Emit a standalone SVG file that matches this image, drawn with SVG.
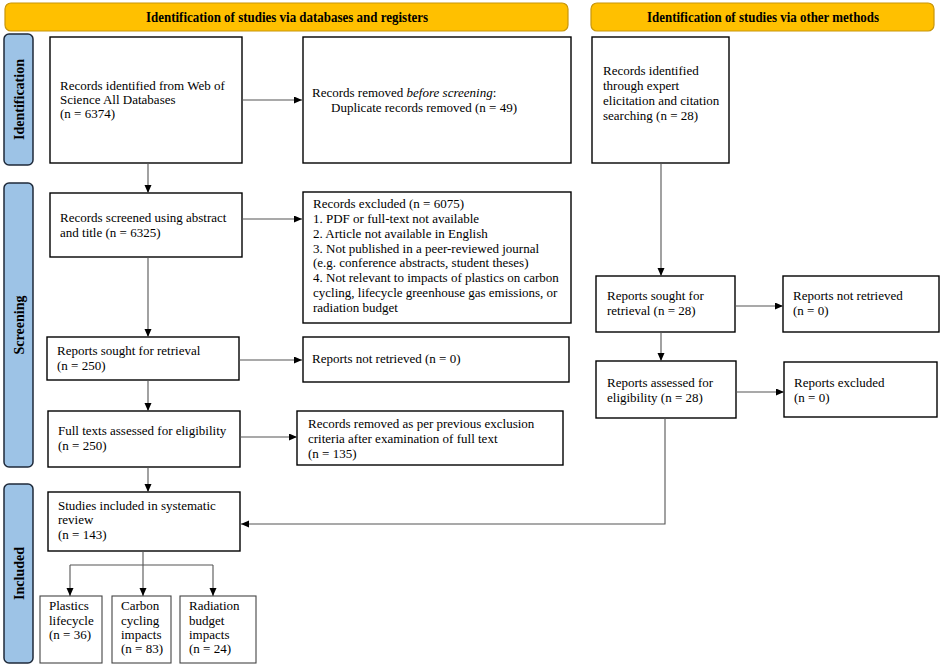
<svg xmlns="http://www.w3.org/2000/svg" width="941" height="667" viewBox="0 0 941 667">
<style>
.hdr{fill:#FFC000;stroke:#C8960A;stroke-width:1.2}
.ht{font-family:"Liberation Serif",serif;font-weight:bold;font-size:14px;fill:#000;text-anchor:middle}
.side{fill:#9DC3E6;stroke:#1F2A3A;stroke-width:1.5}
.st{font-family:"Liberation Serif",serif;font-weight:bold;font-size:14px;fill:#000;text-anchor:middle}
.box{fill:#fff;stroke:#000;stroke-width:1.4}
.sbox{fill:#fff;stroke:#444;stroke-width:1.1}
.t{font-family:"Liberation Serif",serif;font-size:13px;fill:#000}
.c{fill:none;stroke:#555;stroke-width:1.1}
</style>
<defs>
<marker id="ah" markerUnits="userSpaceOnUse" markerWidth="9" markerHeight="8" refX="8" refY="3.5" orient="auto">
<path d="M0,0 L8,3.5 L0,7 z" fill="#000"/>
</marker>
</defs>
<rect width="941" height="667" fill="#fff"/>
<g id="header1"><rect class="hdr" x="5" y="3" width="563" height="28" rx="6"/><text class="ht" x="287" y="21.5" textLength="282" lengthAdjust="spacingAndGlyphs">Identification of studies via databases and registers</text></g>
<g id="header2"><rect class="hdr" x="591" y="3" width="343" height="28" rx="6"/><text class="ht" x="763" y="21.5" textLength="232" lengthAdjust="spacingAndGlyphs">Identification of studies via other methods</text></g>
<g id="label-identification"><rect class="side" x="4" y="34" width="29" height="131" rx="5"/><text class="st" transform="translate(23.5,99.5) rotate(-90)">Identification</text></g>
<g id="label-screening"><rect class="side" x="4" y="183" width="29" height="284" rx="5"/><text class="st" transform="translate(23.5,325) rotate(-90)">Screening</text></g>
<g id="label-included"><rect class="side" x="4" y="484" width="29" height="179" rx="5"/><text class="st" transform="translate(23.5,573.5) rotate(-90)">Included</text></g>
<g id="n-records-wos"><rect class="box" x="50" y="37" width="192" height="126"/><text class="t" x="60" y="90">Records identified from Web of</text><text class="t" x="60" y="104">Science All Databases</text><text class="t" x="60" y="118">(n = 6374)</text></g>
<g id="n-removed-before"><rect class="box" x="303" y="37" width="268" height="126"/><text class="t" x="312" y="97">Records removed <tspan font-style="italic">before screening</tspan>:</text><text class="t" x="331" y="112">Duplicate records removed (n = 49)</text></g>
<g id="n-other-records"><rect class="box" x="592" y="37" width="137" height="126"/><text class="t" x="603" y="75">Records identified</text><text class="t" x="603" y="90">through expert</text><text class="t" x="603" y="105">elicitation and citation</text><text class="t" x="603" y="120">searching (n = 28)</text></g>
<g id="n-screened"><rect class="box" x="50" y="193" width="192" height="64"/><text class="t" x="60" y="222">Records screened using abstract</text><text class="t" x="60" y="237">and title (n = 6325)</text></g>
<g id="n-excluded"><rect class="box" x="303" y="192" width="268" height="131"/><text class="t" x="313" y="208">Records excluded (n = 6075)</text><text class="t" x="313" y="223">1. PDF or full-text not available</text><text class="t" x="313" y="238">2. Article not available in English</text><text class="t" x="313" y="253">3. Not published in a peer-reviewed journal</text><text class="t" x="313" y="267">(e.g. conference abstracts, student theses)</text><text class="t" x="313" y="282">4. Not relevant to impacts of plastics on carbon</text><text class="t" x="313" y="297">cycling, lifecycle greenhouse gas emissions, or</text><text class="t" x="313" y="312">radiation budget</text></g>
<g id="n-sought"><rect class="box" x="47" y="337" width="192" height="43"/><text class="t" x="57" y="355">Reports sought for retrieval</text><text class="t" x="57" y="370">(n = 250)</text></g>
<g id="n-not-retrieved"><rect class="box" x="303" y="337" width="266" height="45"/><text class="t" x="312" y="363">Reports not retrieved (n = 0)</text></g>
<g id="n-fulltext"><rect class="box" x="48" y="411" width="192" height="56"/><text class="t" x="58" y="435">Full texts assessed for eligibility</text><text class="t" x="58" y="450">(n = 250)</text></g>
<g id="n-removed-full"><rect class="box" x="297" y="411" width="266" height="54"/><text class="t" x="308" y="428">Records removed as per previous exclusion</text><text class="t" x="308" y="443">criteria after examination of full text</text><text class="t" x="308" y="458">(n = 135)</text></g>
<g id="n-other-sought"><rect class="box" x="596" y="276" width="139" height="56"/><text class="t" x="607" y="300">Reports sought for</text><text class="t" x="607" y="315">retrieval (n = 28)</text></g>
<g id="n-other-not-retrieved"><rect class="box" x="783" y="276" width="156" height="56"/><text class="t" x="793" y="300">Reports not retrieved</text><text class="t" x="793" y="315">(n = 0)</text></g>
<g id="n-other-assessed"><rect class="box" x="596" y="361" width="140" height="57"/><text class="t" x="607" y="387">Reports assessed for</text><text class="t" x="607" y="402">eligibility (n = 28)</text></g>
<g id="n-other-excluded"><rect class="box" x="784" y="362" width="153" height="55"/><text class="t" x="794" y="387">Reports excluded</text><text class="t" x="794" y="402">(n = 0)</text></g>
<g id="n-included"><rect class="box" x="48" y="492" width="192" height="59"/><text class="t" x="58" y="510">Studies included in systematic</text><text class="t" x="58" y="524">review</text><text class="t" x="58" y="539">(n = 143)</text></g>
<g id="n-lifecycle"><rect class="sbox" x="40" y="596" width="62" height="67"/><text class="t" x="49" y="610">Plastics</text><text class="t" x="49" y="625">lifecycle</text><text class="t" x="49" y="639">(n = 36)</text></g>
<g id="n-carbon"><rect class="sbox" x="112" y="596" width="59" height="67"/><text class="t" x="121" y="610">Carbon</text><text class="t" x="121" y="625">cycling</text><text class="t" x="121" y="639">impacts</text><text class="t" x="121" y="653">(n = 83)</text></g>
<g id="n-radiation"><rect class="sbox" x="180" y="596" width="76" height="67"/><text class="t" x="189" y="610">Radiation</text><text class="t" x="189" y="625">budget</text><text class="t" x="189" y="639">impacts</text><text class="t" x="189" y="653">(n = 24)</text></g>
<g id="connectors">
<path class="c" d="M242,100 H302" marker-end="url(#ah)"/>
<path class="c" d="M148,163 V193" marker-end="url(#ah)"/>
<path class="c" d="M242,219 H302" marker-end="url(#ah)"/>
<path class="c" d="M148,257 V337" marker-end="url(#ah)"/>
<path class="c" d="M239,360 H302" marker-end="url(#ah)"/>
<path class="c" d="M148,380 V411" marker-end="url(#ah)"/>
<path class="c" d="M240,437 H297" marker-end="url(#ah)"/>
<path class="c" d="M148,467 V492" marker-end="url(#ah)"/>
<path class="c" d="M661,163 V276" marker-end="url(#ah)"/>
<path class="c" d="M735,306 H783" marker-end="url(#ah)"/>
<path class="c" d="M661,332 V361" marker-end="url(#ah)"/>
<path class="c" d="M736,392 H784" marker-end="url(#ah)"/>
<path class="c" d="M665,418 V524 H241" marker-end="url(#ah)"/>
<path class="c" d="M143,551 V565 M70,565 H213"/>
<path class="c" d="M70,565 V596" marker-end="url(#ah)"/>
<path class="c" d="M143,565 V596" marker-end="url(#ah)"/>
<path class="c" d="M213,565 V596" marker-end="url(#ah)"/>
</g>
</svg>
